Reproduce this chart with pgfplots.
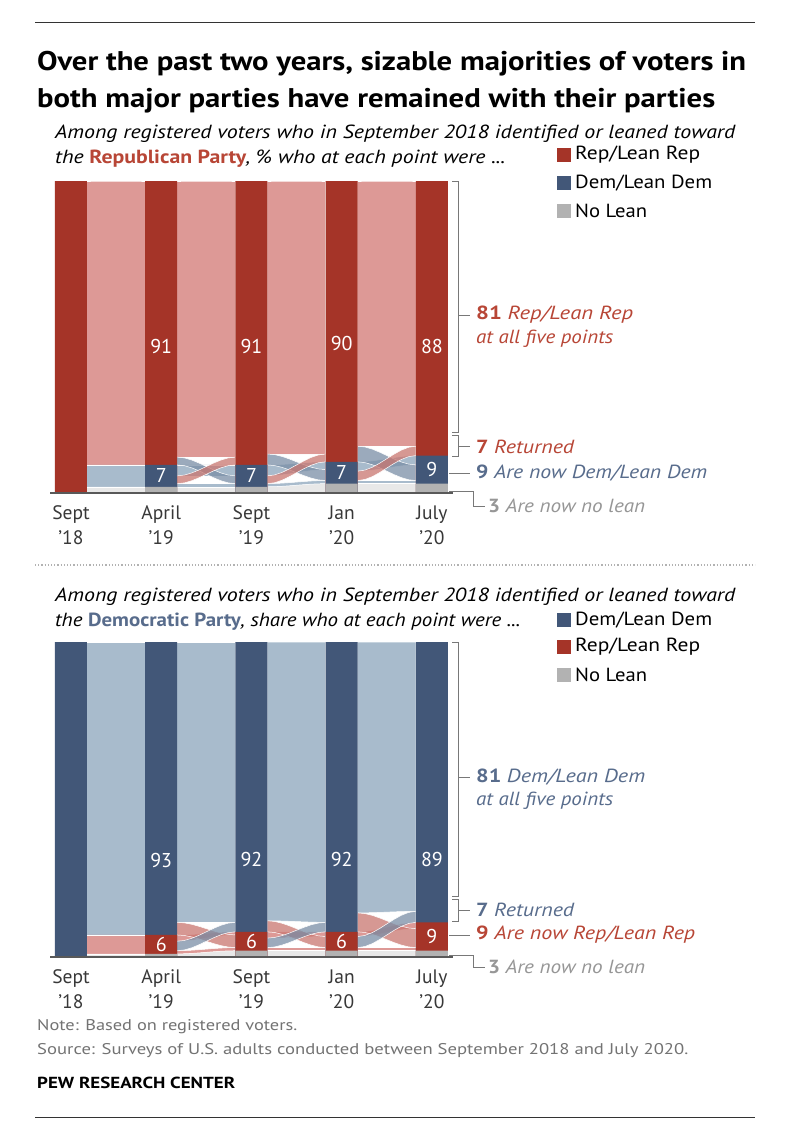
\documentclass[border=0pt]{standalone}
\usepackage{fontspec}
\setmainfont{PT Sans}
\usepackage{graphicx}
\usepackage{pgfplots}
\pgfplotsset{compat=1.18}
\definecolor{RD}{RGB}{165,52,40}
\definecolor{RL}{RGB}{221,153,150}
\definecolor{BD}{RGB}{66,87,120}
\definecolor{BL}{RGB}{168,187,204}
\definecolor{GD}{RGB}{178,178,178}
\definecolor{GL}{RGB}{232,232,232}
\definecolor{RT}{RGB}{184,70,54}
\definecolor{BT}{RGB}{88,108,140}
\definecolor{GT}{RGB}{150,150,150}
\definecolor{NT}{RGB}{115,115,115}
\definecolor{BR}{RGB}{120,120,120}
\pgfplotsset{
  fl/.style={draw=white, line width=0.5pt, mark=none, forget plot},
  xr/.style={fl, fill=RL!65!RD, fill opacity=0.75},
  xb/.style={fl, fill=BL!55!BD, fill opacity=0.75},
  panel/.style={anchor=south west, width=406.1pt, scale only axis,
    xmin=-0.25, xmax=4.25, ymin=0, ymax=100, clip=false,
    axis line style={draw=none}, ytick=\empty, xtick={0,1,2,3,4},
    major tick length=0pt,
    xticklabels={{Sept\\’18},{April\\’19},{Sept\\’19},{Jan\\’20},{July\\’20}},
    xticklabel style={align=center, font=\fontsize{19.5}{25}\selectfont, text=black!78, yshift=-9pt}},
  bar/.style={ybar, bar width=32pt, bar shift=0pt, draw=none, forget plot},
  lab/.style={only marks, mark=*, mark size=0pt, mark options={draw=none,fill=none},
    nodes near coords, point meta=explicit symbolic, forget plot,
    nodes near coords style={anchor=center, inner sep=0pt, text=white, font=\fontsize{20}{20}\selectfont}},
}
% band between two bars: #1 x0, #2 x1, #3 left bottom, #4 left top, #5 right bottom, #6 right top, #7 style
\newcommand\flow[7]{%
  \gdef\flowpts{}%
  \foreach \t/\s in {0/0,0.125/0.04297,0.25/0.15625,0.375/0.31641,0.5/0.5,0.625/0.68359,0.75/0.84375,0.875/0.95703,1/1}{%
    \pgfmathsetmacro\fx{#1+(#2-(#1))*\t}%
    \pgfmathsetmacro\fy{#4+(#6-(#4))*\s}%
    \xdef\flowpts{\flowpts(\fx,\fy)}%
  }%
  \foreach \t/\s in {1/1,0.875/0.95703,0.75/0.84375,0.625/0.68359,0.5/0.5,0.375/0.31641,0.25/0.15625,0.125/0.04297,0/0}{%
    \pgfmathsetmacro\fx{#1+(#2-(#1))*\t}%
    \pgfmathsetmacro\fy{#3+(#5-(#3))*\s}%
    \xdef\flowpts{\flowpts(\fx,\fy)}%
  }%
  \edef\flowcmd{\noexpand\addplot[#7] coordinates {\flowpts};}%
  \flowcmd
}
% text squeezed/stretched to a given width
\newcommand\fit[2]{\resizebox{#1pt}{\height}{\fontsize{19}{21}\selectfont #2}}
\begin{document}
\begin{tikzpicture}[x=1pt,y=1pt]
\useasboundingbox (0,0) rectangle (790,-1138);
\fill[white] (0,0) rectangle (790,-1138);
\draw[line width=1pt, black!80] (35,-22) -- (755,-22);
\node[anchor=base west, inner sep=0pt] at (37,-70) {\resizebox{709pt}{\height}{\fontsize{27}{30}\selectfont\bfseries Over the past two years, sizable majorities of voters in}};
\node[anchor=base west, inner sep=0pt] at (37,-107) {\resizebox{678pt}{\height}{\fontsize{27}{30}\selectfont\bfseries both major parties have remained with their parties}};
% ---------- top panel text
\node[anchor=base west, inner sep=0pt] at (55,-138) {\resizebox{680pt}{\height}{\fontsize{19}{22}\selectfont\itshape Among registered voters who in September 2018 identified or leaned toward}};
\node[anchor=base west, inner sep=0pt] at (55,-163) {\resizebox{450pt}{\height}{\fontsize{19}{22}\selectfont\itshape the {\upshape\bfseries\color{RT}Republican Party}, \% who at each point were ...}};
\fill[RD] (557,-148) rectangle (571,-162);
\fill[BD] (557,-176) rectangle (571,-190);
\fill[GD] (557,-204) rectangle (571,-218);
\node[anchor=west, inner sep=0pt] at (575,-155) {\fit{125}{Rep/Lean Rep}};
\node[anchor=west, inner sep=0pt] at (575,-183) {\fit{137}{Dem/Lean Dem}};
\node[anchor=west, inner sep=0pt] at (575,-211) {\fit{72}{No Lean}};
% ---------- top panel
\begin{axis}[panel, at={(48.4pt,-493pt)}, height=312pt]
% gap 0
\flow{0.1775}{0.8225}{9}{100}{9}{100}{fl, fill=RL}
\flow{0.1775}{0.8225}{2}{9}{2}{9}{fl, fill=BL}
\flow{0.1775}{0.8225}{0}{2}{0}{2}{fl, fill=GL}
% gap 1
\flow{1.1775}{1.8225}{0}{2}{0}{2}{fl, fill=GL}
\flow{1.1775}{1.8225}{2}{3}{2}{3}{fl, fill=BL}
\flow{1.1775}{1.8225}{5.5}{9}{5.5}{9}{fl, fill=BL}
\flow{1.1775}{1.8225}{11.5}{100}{11.5}{100}{fl, fill=RL}
\flow{1.1775}{1.8225}{9}{11.5}{3}{5.5}{xb}
\flow{1.1775}{1.8225}{3}{5.5}{9}{11.5}{xr}
% gap 2
\flow{2.1775}{2.8225}{0}{2}{0}{3}{fl, fill=GL}
\flow{2.1775}{2.8225}{2}{3}{3}{4}{fl, fill=BL}
\flow{2.1775}{2.8225}{5.5}{9}{7.5}{10}{fl, fill=BL}
\flow{2.1775}{2.8225}{12.5}{100}{12.5}{100}{fl, fill=RL}
\flow{2.1775}{2.8225}{9}{12.5}{4}{7.5}{xb}
\flow{2.1775}{2.8225}{3}{5.5}{10}{12.5}{xr}
% gap 3
\flow{3.1775}{3.8225}{0}{3}{0}{3}{fl, fill=GL}
\flow{3.1775}{3.8225}{3}{4}{3}{4}{fl, fill=BL}
\flow{3.1775}{3.8225}{7}{10}{9}{12}{fl, fill=BL}
\flow{3.1775}{3.8225}{15}{100}{15}{100}{fl, fill=RL}
\flow{3.1775}{3.8225}{10}{15}{4}{9}{xb}
\flow{3.1775}{3.8225}{4}{7}{12}{15}{xr}
% bars (drawn tallest first: Rep to 100, Dem to Dem+No lean, No lean)
\addplot[bar, fill=RD] coordinates {(0,100) (1,100) (2,100) (3,100) (4,100)};
\addplot[bar, fill=BD] coordinates {(1,9) (2,9) (3,10) (4,12)};
\addplot[bar, fill=GD] coordinates {(1,2) (2,2) (3,3) (4,3)};
\addplot[draw=black!65, line width=1.3pt, mark=none, forget plot] coordinates {(-0.23,0) (4.23,0)};
\addplot[lab] coordinates {(1,47.1)[91] (2,47.1)[91] (3,48)[90] (4,47.1)[88]};
\addplot[lab] coordinates {(1,5.5)[7] (2,5.5)[7] (3,6.5)[7] (4,7.5)[9]};
\end{axis}
% top annotations
\draw[BR, line width=0.8pt] (452,-181) -- (458,-181) -- (458,-432) -- (452,-432);
\draw[BR, line width=0.8pt] (458,-315) -- (470,-315);
\draw[BR, line width=0.8pt] (452,-435) -- (458,-435) -- (458,-456) -- (452,-456);
\draw[BR, line width=0.8pt] (458,-446) -- (470,-446);
\draw[BR, line width=0.8pt] (449,-473) -- (470,-473);
\draw[BR, line width=0.8pt] (449,-491) -- (473,-491) -- (473,-506) -- (485,-506);
\node[anchor=west, inner sep=0pt, text=RT] at (476,-315) {\fit{157}{\bfseries 81 \mdseries\itshape Rep/Lean Rep}};
\node[anchor=west, inner sep=0pt, text=RT] at (476,-339) {\fit{137}{\itshape at all five points}};
\node[anchor=west, inner sep=0pt, text=RT] at (476,-447) {\fit{98}{\bfseries 7 \mdseries\itshape Returned}};
\node[anchor=west, inner sep=0pt, text=BT] at (476,-473) {\fit{231}{\bfseries 9 \mdseries\itshape Are now Dem/Lean Dem}};
\node[anchor=west, inner sep=0pt, text=GT] at (488,-506) {\fit{157}{\bfseries 3 \mdseries\itshape Are now no lean}};
% separator
\draw[dotted, line width=1.2pt, black!30] (35,-565) -- (755,-565);
% ---------- bottom panel text
\node[anchor=base west, inner sep=0pt] at (55,-601) {\resizebox{680pt}{\height}{\fontsize{19}{22}\selectfont\itshape Among registered voters who in September 2018 identified or leaned toward}};
\node[anchor=base west, inner sep=0pt] at (55,-626) {\resizebox{465pt}{\height}{\fontsize{19}{22}\selectfont\itshape the {\upshape\bfseries\color{BT}Democratic Party}, share who at each point were ...}};
\fill[BD] (557,-613) rectangle (571,-627);
\fill[RD] (557,-640) rectangle (571,-654);
\fill[GD] (557,-668) rectangle (571,-682);
\node[anchor=west, inner sep=0pt] at (575,-620) {\fit{137}{Dem/Lean Dem}};
\node[anchor=west, inner sep=0pt] at (575,-647) {\fit{125}{Rep/Lean Rep}};
\node[anchor=west, inner sep=0pt] at (575,-675) {\fit{72}{No Lean}};
% ---------- bottom panel
\begin{axis}[panel, at={(48.4pt,-957pt)}, height=315pt]
% gap 0
\flow{0.1775}{0.8225}{7}{100}{7}{100}{fl, fill=BL}
\flow{0.1775}{0.8225}{1}{7}{1}{7}{fl, fill=RL}
\flow{0.1775}{0.8225}{0}{1}{0}{1}{fl, fill=GL}
% gap 1
\flow{1.1775}{1.8225}{0}{1}{0}{2}{fl, fill=GL}
\flow{1.1775}{1.8225}{1}{2}{2}{3}{fl, fill=RL}
\flow{1.1775}{1.8225}{5}{7}{7}{8}{fl, fill=RL}
\flow{1.1775}{1.8225}{11}{100}{11}{100}{fl, fill=BL}
\flow{1.1775}{1.8225}{7}{11}{3}{7}{xr}
\flow{1.1775}{1.8225}{2}{5}{8}{11}{xb}
% gap 2
\flow{2.1775}{2.8225}{0}{2}{0}{2}{fl, fill=GL}
\flow{2.1775}{2.8225}{2}{3}{2}{3}{fl, fill=RL}
\flow{2.1775}{2.8225}{6}{8}{6.5}{8}{fl, fill=RL}
\flow{2.1775}{2.8225}{11.5}{100}{11}{100}{fl, fill=BL}
\flow{2.1775}{2.8225}{8}{11.5}{3}{6.5}{xr}
\flow{2.1775}{2.8225}{3}{6}{8}{11}{xb}
% gap 3
\flow{3.1775}{3.8225}{0}{2}{0}{2}{fl, fill=GL}
\flow{3.1775}{3.8225}{2}{3}{2}{3}{fl, fill=RL}
\flow{3.1775}{3.8225}{6.5}{8}{9}{11}{fl, fill=RL}
\flow{3.1775}{3.8225}{14}{100}{14.5}{100}{fl, fill=BL}
\flow{3.1775}{3.8225}{8}{14}{3}{9}{xr}
\flow{3.1775}{3.8225}{3}{6.5}{11}{14.5}{xb}
% bars
\addplot[bar, fill=BD] coordinates {(0,100) (1,100) (2,100) (3,100) (4,100)};
\addplot[bar, fill=RD] coordinates {(1,7) (2,8) (3,8) (4,11)};
\addplot[bar, fill=GD] coordinates {(1,1) (2,2) (3,2) (4,2)};
\addplot[draw=black!65, line width=1.3pt, mark=none, forget plot] coordinates {(-0.23,0) (4.23,0)};
\addplot[lab] coordinates {(1,30.5)[93] (2,31.1)[92] (3,31.1)[92] (4,31.1)[89]};
\addplot[lab] coordinates {(1,4)[6] (2,5)[6] (3,5)[6] (4,6.5)[9]};
\end{axis}
% bottom annotations
\draw[BR, line width=0.8pt] (452,-642) -- (458,-642) -- (458,-896) -- (452,-896);
\draw[BR, line width=0.8pt] (458,-777) -- (470,-777);
\draw[BR, line width=0.8pt] (452,-899) -- (458,-899) -- (458,-921) -- (452,-921);
\draw[BR, line width=0.8pt] (458,-910) -- (470,-910);
\draw[BR, line width=0.8pt] (449,-935) -- (470,-935);
\draw[BR, line width=0.8pt] (449,-955) -- (473,-955) -- (473,-967) -- (485,-967);
\node[anchor=west, inner sep=0pt, text=BT] at (476,-777) {\fit{169}{\bfseries 81 \mdseries\itshape Dem/Lean Dem}};
\node[anchor=west, inner sep=0pt, text=BT] at (476,-801) {\fit{137}{\itshape at all five points}};
\node[anchor=west, inner sep=0pt, text=BT] at (476,-910) {\fit{98}{\bfseries 7 \mdseries\itshape Returned}};
\node[anchor=west, inner sep=0pt, text=RT] at (476,-935) {\fit{219}{\bfseries 9 \mdseries\itshape Are now Rep/Lean Rep}};
\node[anchor=west, inner sep=0pt, text=GT] at (488,-967) {\fit{157}{\bfseries 3 \mdseries\itshape Are now no lean}};
% footer
\node[anchor=base west, inner sep=0pt, text=NT] at (37,-1030) {\resizebox{260pt}{\height}{\fontsize{15.5}{18}\selectfont Note: Based on registered voters.}};
\node[anchor=base west, inner sep=0pt, text=NT] at (37,-1054) {\resizebox{651pt}{\height}{\fontsize{15.5}{18}\selectfont Source: Surveys of U.S. adults conducted between September 2018 and July 2020.}};
\node[anchor=base west, inner sep=0pt] at (37,-1088) {\resizebox{198pt}{\height}{\fontsize{16}{18}\selectfont\bfseries PEW RESEARCH CENTER}};
\draw[line width=1pt, black!80] (35,-1117) -- (755,-1117);
\end{tikzpicture}
\end{document}
